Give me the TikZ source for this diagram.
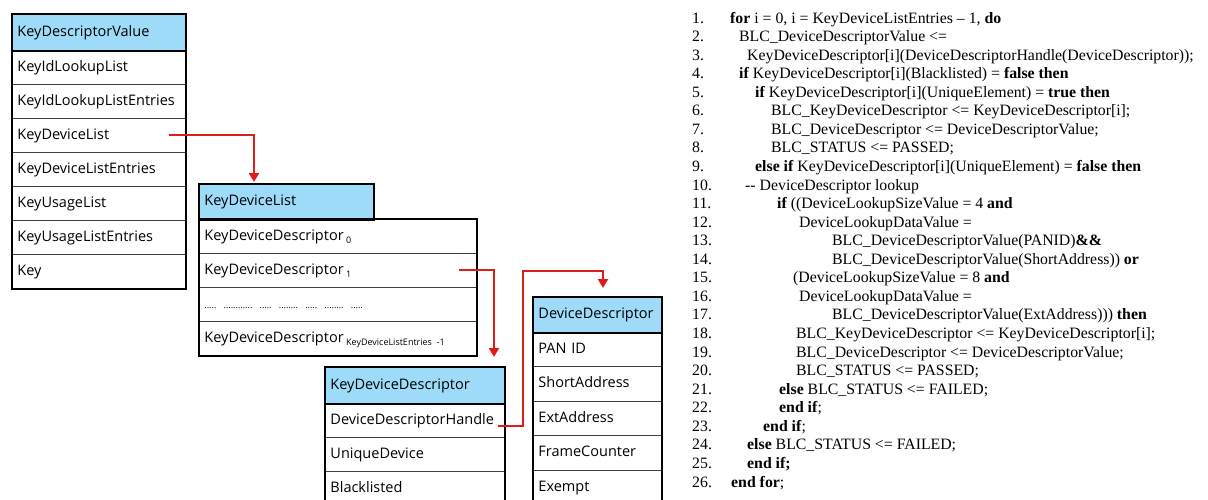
\documentclass[tikz,border=0pt]{standalone}
\usepackage{fontspec}
\setmainfont{Liberation Serif}
\newfontfamily\tabfont{Open Sans}
\usetikzlibrary{arrows.meta}
\definecolor{hdr}{RGB}{158,219,249}
\definecolor{arrred}{RGB}{222,28,28}
\newcommand{\tf}{\tabfont\fontsize{14.5}{17}\selectfont}
\newcommand{\cf}{\fontsize{15.8}{18}\selectfont}
\newcommand{\subt}[1]{\,{\fontsize{9}{9}\selectfont\raisebox{-3.5pt}{#1}}}
\begin{document}
\begin{tikzpicture}[x=1pt,y=-1pt,
  cell/.style={draw=black!75, line width=0.9pt, anchor=north west, inner xsep=5pt, inner ysep=0pt,
    align=left, font=\tf, text height=11pt, text depth=3.5pt},
  head/.style={cell, fill=hdr},
  frame/.style={draw=black, line width=2.3pt},
  arr/.style={draw=arrred, line width=2pt, -{Triangle[width=10pt,length=9pt]}},
  code/.style={anchor=base west, inner sep=0pt, font=\cf},
  num/.style={anchor=base west, inner sep=0pt, font=\cf}]
\clip (0,0) rectangle (1208,499);
\fill[white] (0,0) rectangle (1208,499);

% Table 1
\node[head, text width=163pt, minimum height=36pt] (t1h) at (12,14) {KeyDescriptorValue};
\node[cell, text width=163pt, minimum height=34pt] (t1r1) at (12,50) {KeyIdLookupList};
\node[cell, text width=163pt, minimum height=34pt] (t1r2) at (12,84) {KeyIdLookupListEntries};
\node[cell, text width=163pt, minimum height=34pt] (t1r3) at (12,118) {KeyDeviceList};
\node[cell, text width=163pt, minimum height=34pt] (t1r4) at (12,152) {KeyDeviceListEntries};
\node[cell, text width=163pt, minimum height=34pt] (t1r5) at (12,186) {KeyUsageList};
\node[cell, text width=163pt, minimum height=34pt] (t1r6) at (12,220) {KeyUsageListEntries};
\node[cell, text width=163pt, minimum height=34pt] (t1r7) at (12,254) {Key};
\draw[line width=1.6pt] (t1h.south west) -- (t1h.south east);
\draw[frame] (t1h.north west) rectangle (t1r7.south east);

% Table 2
\node[head, text width=164pt, minimum height=35pt] (t2h) at (199,184) {KeyDeviceList};
\node[cell, text width=267pt, minimum height=34pt] (t2r1) at (199,219) {KeyDeviceDescriptor\subt{0}};
\node[cell, text width=267pt, minimum height=34pt] (t2r2) at (199,253) {KeyDeviceDescriptor\subt{1}};
\node[cell, text width=267pt, minimum height=34pt] (t2r3) at (199,287) {{\fontsize{9}{9}\selectfont ..... ............ ..... ........ ..... ........ .....}};
\node[cell, text width=267pt, minimum height=34pt] (t2r4) at (199,321) {KeyDeviceDescriptor\subt{KeyDeviceListEntries -1}};
\draw[frame] (t2h.north west) rectangle (t2h.south east);
\draw[frame] (t2r1.north west) rectangle (t2r4.south east);

% Table 3
\node[head, text width=169pt, minimum height=36pt] (t3h) at (325,367) {KeyDeviceDescriptor};
\node[cell, text width=169pt, minimum height=34pt] (t3r1) at (325,403) {DeviceDescriptorHandle};
\node[cell, text width=169pt, minimum height=34pt] (t3r2) at (325,437) {UniqueDevice};
\node[cell, text width=169pt, minimum height=34pt] (t3r3) at (325,471) {Blacklisted};
\draw[line width=1.6pt] (t3h.south west) -- (t3h.south east);
\draw[frame] (t3h.north west) rectangle (t3r3.south east);

% Table 4
\node[head, text width=118pt, minimum height=35pt] (t4h) at (533,297) {DeviceDescriptor};
\node[cell, text width=118pt, minimum height=34.4pt] (t4r1) at (533,332) {PAN ID};
\node[cell, text width=118pt, minimum height=34.4pt] (t4r2) at (533,366.4) {ShortAddress};
\node[cell, text width=118pt, minimum height=34.4pt] (t4r3) at (533,400.8) {ExtAddress};
\node[cell, text width=118pt, minimum height=34.4pt] (t4r4) at (533,435.2) {FrameCounter};
\node[cell, text width=118pt, minimum height=34.4pt] (t4r5) at (533,469.6) {Exempt};
\draw[line width=1.6pt] (t4h.south west) -- (t4h.south east);
\draw[frame] (t4h.north west) rectangle (t4r5.south east);

% Arrows
\coordinate (s1) at ([xshift=-17pt]t1r3.east);
\coordinate (e1) at ([xshift=55pt,yshift=2pt]t2h.north west);
\draw[arr] (s1) -| (e1);
\coordinate (s2) at ([xshift=-18pt]t2r2.east);
\coordinate (e2) at ([xshift=169pt,yshift=10pt]t3h.north west);
\draw[arr] (s2) -| (e2);
\coordinate (s3) at ([xshift=-7pt,yshift=-6pt]t3r1.east);
\coordinate (e3) at ([xshift=70pt,yshift=9pt]t4h.north west);
\draw[arr] (s3) -- ++(25,0) |- ([yshift=17pt]e3) -- (e3);

% Pseudocode
\foreach \i in {1,...,26}{
  \node[num] (n\i) at (692,{23+(\i-1)*18.56}) {\i.};
}
\node[code] (l1) at (730,23) {\textbf{for} i = 0, i = KeyDeviceListEntries – 1, \textbf{do}};
\node[code] (l2) at (739,41.56) {BLC\_DeviceDescriptorValue <=};
\node[code] (l3) at (747,60.12) {KeyDeviceDescriptor[i](DeviceDescriptorHandle(DeviceDescriptor));};
\node[code] (l4) at (739,78.68) {\textbf{if} KeyDeviceDescriptor[i](Blacklisted) = \textbf{false then}};
\node[code] (l5) at (755,97.24) {\textbf{if} KeyDeviceDescriptor[i](UniqueElement) = \textbf{true then}};
\node[code] (l6) at (771,115.8) {BLC\_KeyDeviceDescriptor <= KeyDeviceDescriptor[i];};
\node[code] (l7) at (771,134.36) {BLC\_DeviceDescriptor <= DeviceDescriptorValue;};
\node[code] (l8) at (771,152.92) {BLC\_STATUS <= PASSED;};
\node[code] (l9) at (755,171.48) {\textbf{else if} KeyDeviceDescriptor[i](UniqueElement) = \textbf{false then}};
\node[code] (l10) at (745,190.04) {-{}- DeviceDescriptor lookup};
\node[code] (l11) at (777,208.6) {\textbf{if} ((DeviceLookupSizeValue = 4 \textbf{and}};
\node[code] (l12) at (799,227.16) {DeviceLookupDataValue =};
\node[code] (l13) at (832,245.72) {BLC\_DeviceDescriptorValue(PANID)\textbf{\&\&}};
\node[code] (l14) at (832,264.28) {BLC\_DeviceDescriptorValue(ShortAddress)) \textbf{or}};
\node[code] (l15) at (793,282.84) {(DeviceLookupSizeValue = 8 \textbf{and}};
\node[code] (l16) at (799,301.4) {DeviceLookupDataValue =};
\node[code] (l17) at (832,319.96) {BLC\_DeviceDescriptorValue(ExtAddress))) \textbf{then}};
\node[code] (l18) at (796,338.52) {BLC\_KeyDeviceDescriptor <= KeyDeviceDescriptor[i];};
\node[code] (l19) at (796,357.08) {BLC\_DeviceDescriptor <= DeviceDescriptorValue;};
\node[code] (l20) at (796,375.64) {BLC\_STATUS <= PASSED;};
\node[code] (l21) at (779,394.2) {\textbf{else} BLC\_STATUS <= FAILED;};
\node[code] (l22) at (779,412.76) {\textbf{end if};};
\node[code] (l23) at (763,431.32) {\textbf{end if};};
\node[code] (l24) at (747,449.88) {\textbf{else} BLC\_STATUS <= FAILED;};
\node[code] (l25) at (747,468.44) {\textbf{end if;}};
\node[code] (l26) at (731,487) {\textbf{end for};};
\end{tikzpicture}
\end{document}
